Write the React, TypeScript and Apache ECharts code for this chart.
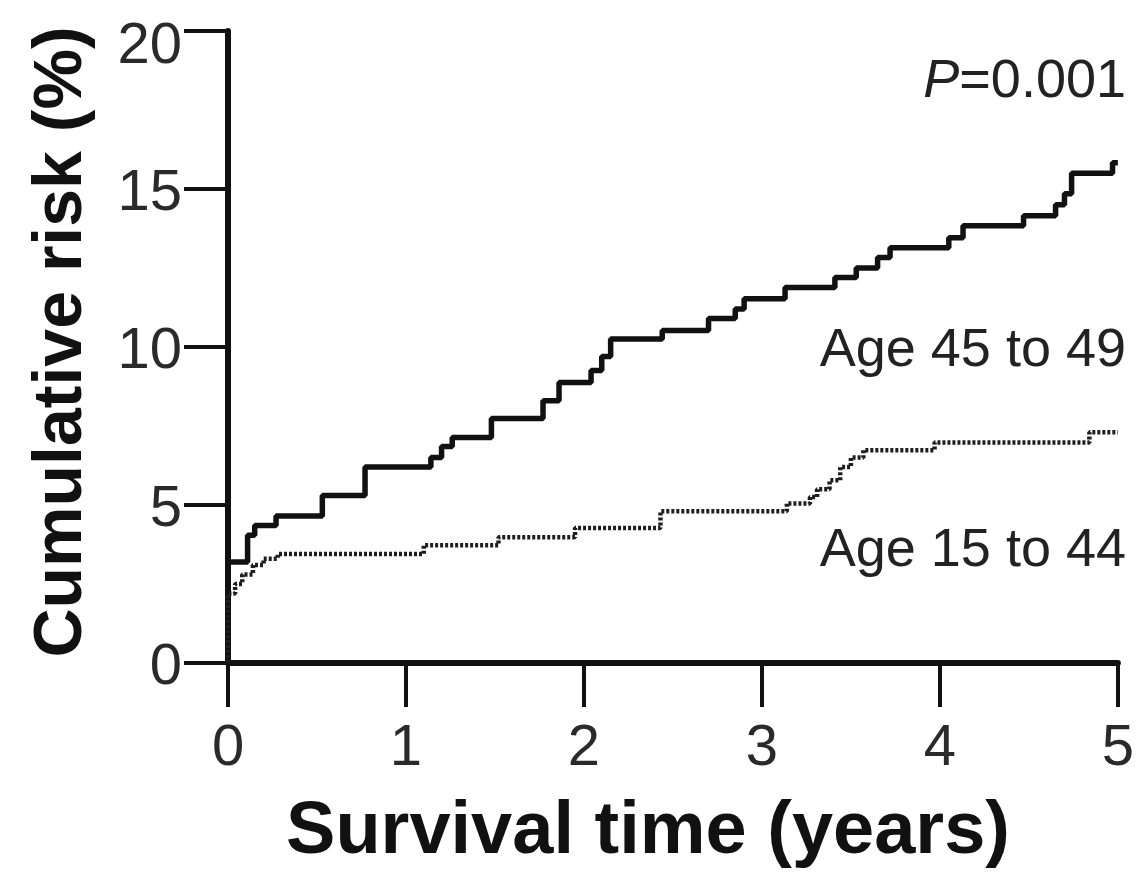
import React, { useEffect, useRef } from "react";
import * as echarts from "echarts";

// Age 45 to 49 (solid): [years, cumulative risk %]
const olderTimes = [0, 0, 0.08, 0.11, 0.15, 0.27, 0.53, 0.77, 1.14, 1.2, 1.26, 1.48, 1.77, 1.86, 2.04, 2.1, 2.15, 2.44, 2.7, 2.85, 2.9, 3.13, 3.41, 3.53, 3.65, 3.72, 4.05, 4.13, 4.47, 4.65, 4.7, 4.74, 4.97, 5.0];
const olderRisk = [0, 3.2, 3.2, 4.04, 4.35, 4.65, 5.3, 6.2, 6.5, 6.85, 7.14, 7.74, 8.3, 8.88, 9.26, 9.7, 10.25, 10.52, 10.9, 11.2, 11.53, 11.88, 12.2, 12.5, 12.83, 13.14, 13.46, 13.84, 14.15, 14.5, 14.85, 15.5, 15.83, 15.83];

// Age 15 to 44 (dotted)
const youngerTimes = [0, 0, 0.04, 0.08, 0.14, 0.2, 0.28, 1.1, 1.52, 1.95, 2.43, 3.14, 3.27, 3.31, 3.38, 3.44, 3.5, 3.57, 3.97, 4.84, 5.0];
const youngerRisk = [0, 2.2, 2.5, 2.8, 3.1, 3.3, 3.45, 3.73, 3.98, 4.27, 4.8, 5.05, 5.25, 5.5, 5.78, 6.2, 6.5, 6.73, 6.98, 7.3, 7.3];

const xTicks = [0, 1, 2, 3, 4, 5];
const yTicks = [0, 5, 10, 15, 20];

const seriesLabels = ["Age 45 to 49", "Age 15 to 44"];
const xTitle = "Survival time (years)";
const yTitle = "Cumulative risk (%)";

const FONT = "'Liberation Sans', Arial, Helvetica, sans-serif";

export default function App() {
  const ref = useRef<HTMLDivElement>(null);
  useEffect(() => {
    if (!ref.current) return;
    const chart = echarts.init(ref.current, null, { renderer: "svg" });
    const older = olderTimes.map((t, i) => [t, olderRisk[i]]);
    const younger = youngerTimes.map((t, i) => [t, youngerRisk[i]]);
    const yMax = yTicks[yTicks.length - 1];
    chart.setOption({
      animation: false,
      backgroundColor: "#ffffff",
      grid: { left: 228, right: 16, top: 31, bottom: 212, containLabel: false },
      xAxis: {
        type: "value",
        min: xTicks[0],
        max: xTicks[xTicks.length - 1],
        interval: 1,
        splitLine: { show: false },
        axisLine: { show: true, lineStyle: { color: "#111", width: 6 } },
        axisTick: { show: true, length: 44, lineStyle: { color: "#111", width: 4 } },
        axisLabel: { fontSize: 58, color: "#2a2a2a", fontFamily: FONT, margin: 52 },
      },
      yAxis: {
        type: "value",
        min: yTicks[0],
        max: yMax,
        interval: 5,
        splitLine: { show: false },
        axisLine: { show: true, lineStyle: { color: "#111", width: 6 } },
        axisTick: { show: true, length: 44, lineStyle: { color: "#111", width: 4 } },
        axisLabel: {
          fontSize: 58,
          color: "#2a2a2a",
          fontFamily: FONT,
          margin: 46,
          formatter: (v: number) => (v === yMax ? `{top|${v}}` : `${v}`),
          rich: {
            top: { fontSize: 58, color: "#2a2a2a", fontFamily: FONT, padding: [22, 0, 0, 0] },
          },
        },
      },
      series: [
        {
          name: seriesLabels[0],
          type: "line",
          step: "end",
          data: older,
          showSymbol: false,
          clip: false,
          lineStyle: { color: "#111", width: 5.5 },
        },
        {
          name: seriesLabels[1],
          type: "line",
          step: "end",
          data: younger,
          showSymbol: false,
          clip: false,
          lineStyle: { color: "#1e1e1e", width: 4.5, type: [3, 2] },
        },
      ],
      graphic: [
        {
          type: "text",
          x: 1126,
          y: 78,
          style: {
            text: "{i|P}=0.001",
            align: "right",
            verticalAlign: "middle",
            fill: "#222",
            font: `54px ${FONT}`,
            rich: {
              i: { fontStyle: "italic", fontSize: 54, fontFamily: FONT, fill: "#222" },
            },
          },
        },
        {
          type: "text",
          x: 1126,
          y: 347,
          style: { text: seriesLabels[0], align: "right", verticalAlign: "middle", fill: "#222", font: `54px ${FONT}` },
        },
        {
          type: "text",
          x: 1126,
          y: 547,
          style: { text: seriesLabels[1], align: "right", verticalAlign: "middle", fill: "#222", font: `54px ${FONT}` },
        },
        {
          type: "text",
          x: 648,
          y: 827,
          style: { text: xTitle, align: "center", verticalAlign: "middle", fill: "#111", font: `bold 74px ${FONT}` },
        },
        {
          type: "text",
          x: 57,
          y: 342,
          rotation: Math.PI / 2,
          style: { text: yTitle, align: "center", verticalAlign: "middle", fill: "#111", font: `bold 68px ${FONT}` },
        },
      ],
    });
    return () => chart.dispose();
  }, []);
  return (
    <div
      ref={ref}
      style={{ position: "fixed", left: 0, top: 0, width: 1137, height: 875, background: "#fff" }}
    />
  );
}
